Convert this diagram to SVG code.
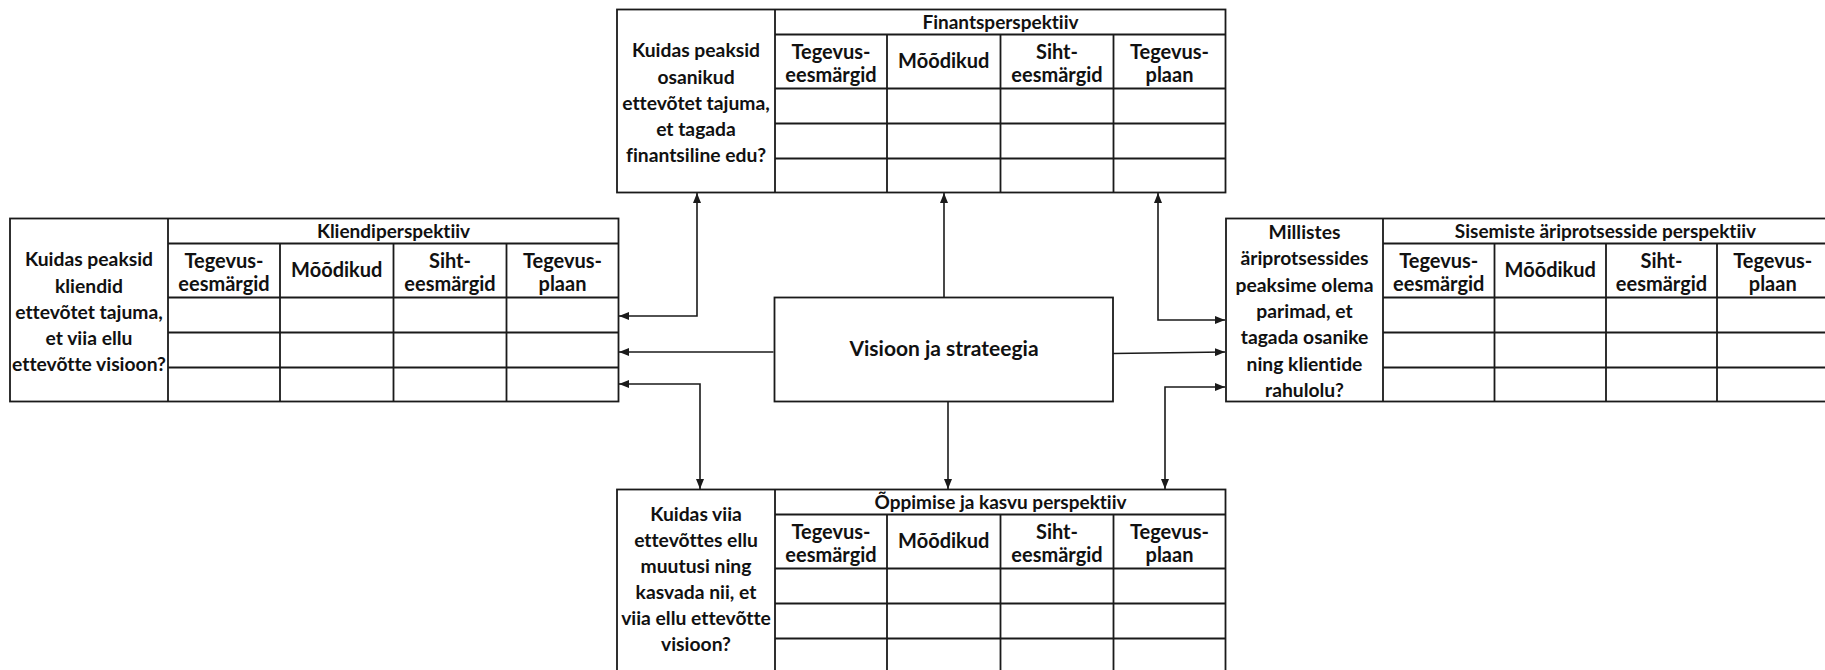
<svg xmlns="http://www.w3.org/2000/svg" width="1825" height="670" viewBox="0 0 1825 670">
  <style>
    .bg { fill: #ffffff; }
    .frame { fill: #ffffff; stroke: #1a1a1a; stroke-width: 1.8; }
    .grid { stroke: #1a1a1a; stroke-width: 1.8; fill: none; }
    .txt { font-family: Lato, "Open Sans", sans-serif; font-weight: bold; font-size: 20px; fill: #111111; text-anchor: middle; font-variant-ligatures: none; font-feature-settings: "liga" 0, "clig" 0; }
    .title { font-size: 19px; }
    .ask { font-size: 19.3px; }
    .core { font-size: 21px; }
    .link { stroke: #1a1a1a; stroke-width: 1.6; fill: none; }
  </style>
  <defs>
    <marker id="arrow" viewBox="0 0 10 8" refX="10" refY="4" markerWidth="10" markerHeight="8" markerUnits="userSpaceOnUse" orient="auto-start-reverse">
      <path d="M0,0 L10,4 L0,8 z" fill="#1a1a1a"/>
    </marker>
  </defs>

  <rect class="bg" x="0" y="0" width="1825" height="670"/>

  <!-- Finance perspective (top) -->
  <g id="finants" transform="translate(617,9.5)">
    <rect class="frame" x="0" y="0" width="608.5" height="183"/>
    <path class="grid" d="M158,0 V183 M158,25 H608.5 M158,79 H608.5 M158,114 H608.5 M158,149 H608.5 M270,25 V183 M383.5,25 V183 M496.5,25 V183"/>
    <text class="txt title" x="383.5" y="19">Finantsperspektiiv</text>
    <text class="txt" x="214" y="49.5">Tegevus-</text>
    <text class="txt" x="214" y="72.5">eesmärgid</text>
    <text class="txt" x="326.75" y="58.5">Mõõdikud</text>
    <text class="txt" x="440" y="49.5">Siht-</text>
    <text class="txt" x="440" y="72.5">eesmärgid</text>
    <text class="txt" x="552.5" y="49.5">Tegevus-</text>
    <text class="txt" x="552.5" y="72.5">plaan</text>
    <text class="txt ask" x="79" y="47.5">Kuidas peaksid</text>
    <text class="txt ask" x="79" y="74">osanikud</text>
    <text class="txt ask" x="79" y="100">ettevõtet tajuma,</text>
    <text class="txt ask" x="79" y="126.5">et tagada</text>
    <text class="txt ask" x="79" y="152.5">finantsiline edu?</text>
  </g>

  <!-- Customer perspective (left) -->
  <g id="kliendi" transform="translate(10,218.5)">
    <rect class="frame" x="0" y="0" width="608.5" height="183"/>
    <path class="grid" d="M158,0 V183 M158,25 H608.5 M158,79 H608.5 M158,114 H608.5 M158,149 H608.5 M270,25 V183 M383.5,25 V183 M496.5,25 V183"/>
    <text class="txt title" x="383.5" y="19">Kliendiperspektiiv</text>
    <text class="txt" x="214" y="49.5">Tegevus-</text>
    <text class="txt" x="214" y="72.5">eesmärgid</text>
    <text class="txt" x="326.75" y="58.5">Mõõdikud</text>
    <text class="txt" x="440" y="49.5">Siht-</text>
    <text class="txt" x="440" y="72.5">eesmärgid</text>
    <text class="txt" x="552.5" y="49.5">Tegevus-</text>
    <text class="txt" x="552.5" y="72.5">plaan</text>
    <text class="txt ask" x="79" y="47.5">Kuidas peaksid</text>
    <text class="txt ask" x="79" y="74">kliendid</text>
    <text class="txt ask" x="79" y="100">ettevõtet tajuma,</text>
    <text class="txt ask" x="79" y="126.5">et viia ellu</text>
    <text class="txt ask" x="79" y="152.5">ettevõtte visioon?</text>
  </g>

  <!-- Internal business process perspective (right) -->
  <g id="sisemised" transform="translate(1226,218.5)">
    <rect class="frame" x="0" y="0" width="602.5" height="183"/>
    <path class="grid" d="M157,0 V183 M157,25 H602.5 M157,79 H602.5 M157,114 H602.5 M157,149 H602.5 M268.5,25 V183 M380,25 V183 M491,25 V183"/>
    <text class="txt title" x="379.5" y="19">Sisemiste äriprotsesside perspektiiv</text>
    <text class="txt" x="212.75" y="49.5">Tegevus-</text>
    <text class="txt" x="212.75" y="72.5">eesmärgid</text>
    <text class="txt" x="324.25" y="58.5">Mõõdikud</text>
    <text class="txt" x="435.5" y="49.5">Siht-</text>
    <text class="txt" x="435.5" y="72.5">eesmärgid</text>
    <text class="txt" x="546.75" y="49.5">Tegevus-</text>
    <text class="txt" x="546.75" y="72.5">plaan</text>
    <text class="txt ask" x="78.5" y="20.5">Millistes</text>
    <text class="txt ask" x="78.5" y="46.8">äriprotsessides</text>
    <text class="txt ask" x="78.5" y="73.1">peaksime olema</text>
    <text class="txt ask" x="78.5" y="99.4">parimad, et</text>
    <text class="txt ask" x="78.5" y="125.7">tagada osanike</text>
    <text class="txt ask" x="78.5" y="152">ning klientide</text>
    <text class="txt ask" x="78.5" y="178.3">rahulolu?</text>
  </g>

  <!-- Learning and growth perspective (bottom) -->
  <g id="oppimise" transform="translate(617,489.5)">
    <rect class="frame" x="0" y="0" width="608.5" height="183"/>
    <path class="grid" d="M158,0 V183 M158,25 H608.5 M158,79 H608.5 M158,114 H608.5 M158,149 H608.5 M270,25 V183 M383.5,25 V183 M496.5,25 V183"/>
    <text class="txt title" x="383.5" y="19">Õppimise ja kasvu perspektiiv</text>
    <text class="txt" x="214" y="49.5">Tegevus-</text>
    <text class="txt" x="214" y="72.5">eesmärgid</text>
    <text class="txt" x="326.75" y="58.5">Mõõdikud</text>
    <text class="txt" x="440" y="49.5">Siht-</text>
    <text class="txt" x="440" y="72.5">eesmärgid</text>
    <text class="txt" x="552.5" y="49.5">Tegevus-</text>
    <text class="txt" x="552.5" y="72.5">plaan</text>
    <text class="txt ask" x="79" y="31">Kuidas viia</text>
    <text class="txt ask" x="79" y="57">ettevõttes ellu</text>
    <text class="txt ask" x="79" y="83">muutusi ning</text>
    <text class="txt ask" x="79" y="109">kasvada nii, et</text>
    <text class="txt ask" x="79" y="135">viia ellu ettevõtte</text>
    <text class="txt ask" x="79" y="161">visioon?</text>
  </g>

  <!-- Vision and strategy (centre) -->
  <g id="visioon">
    <rect class="frame" x="774.5" y="297.5" width="338.5" height="104"/>
    <text class="txt core" x="944" y="355.5">Visioon ja strateegia</text>
  </g>

  <!-- Connectors -->
  <g id="connectors">
    <path class="link" d="M944,297.5 V193" marker-end="url(#arrow)"/>
    <path class="link" d="M697,193 V316 H619" marker-start="url(#arrow)" marker-end="url(#arrow)"/>
    <path class="link" d="M773.5,352 H619" marker-end="url(#arrow)"/>
    <path class="link" d="M619,384 H700 V489" marker-start="url(#arrow)" marker-end="url(#arrow)"/>
    <path class="link" d="M948,402 V489" marker-end="url(#arrow)"/>
    <path class="link" d="M1158,193 V320 H1225" marker-start="url(#arrow)" marker-end="url(#arrow)"/>
    <path class="link" d="M1113,353.5 L1225,352" marker-end="url(#arrow)"/>
    <path class="link" d="M1225,387 H1165 V489" marker-start="url(#arrow)" marker-end="url(#arrow)"/>
  </g>
</svg>
